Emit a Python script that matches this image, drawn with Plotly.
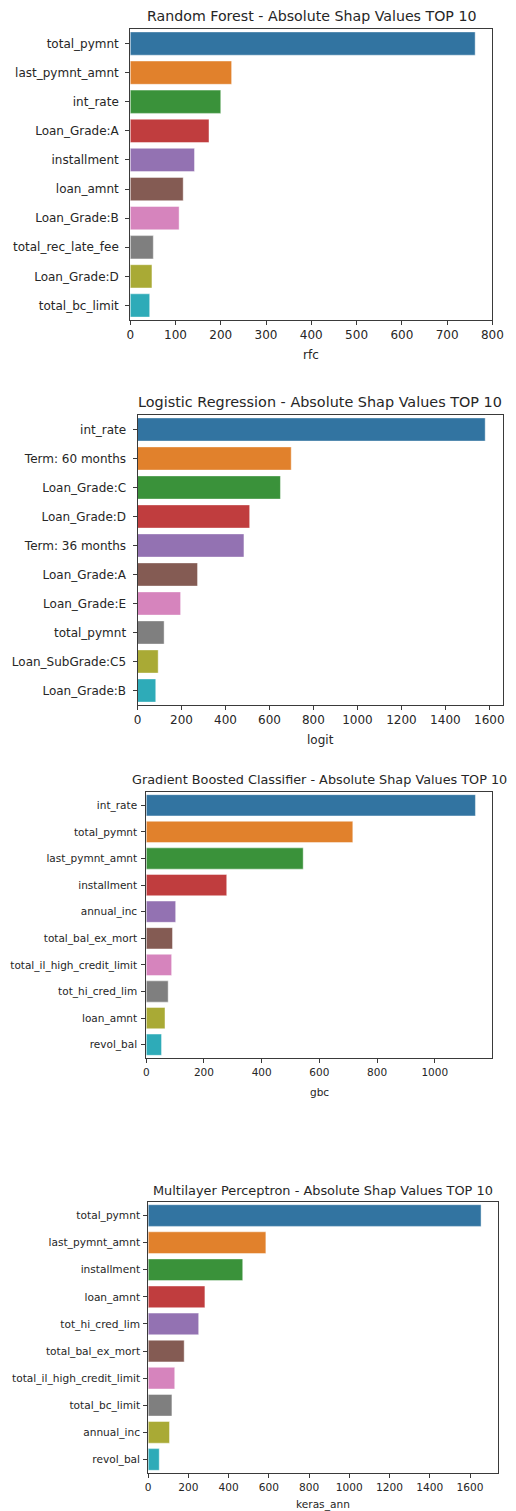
import plotly.graph_objects as go

W, H = 516, 1511

# Seaborn default (deep) palette, one colour per rank
palette = ['#3274a1', '#e1812c', '#3a923a', '#c03d3e', '#9372b2',
           '#845b53', '#d684bd', '#7f7f7f', '#a9aa35', '#2eabb8']

rfc_features = ['total_pymnt', 'last_pymnt_amnt', 'int_rate', 'Loan_Grade:A', 'installment',
                'loan_amnt', 'Loan_Grade:B', 'total_rec_late_fee', 'Loan_Grade:D', 'total_bc_limit']
rfc_values = [762, 224, 200, 174, 142, 117, 108, 51, 48, 43]

logit_features = ['int_rate', 'Term: 60 months', 'Loan_Grade:C', 'Loan_Grade:D', 'Term: 36 months',
                  'Loan_Grade:A', 'Loan_Grade:E', 'total_pymnt', 'Loan_SubGrade:C5', 'Loan_Grade:B']
logit_values = [1581, 699, 650, 510, 484, 273, 196, 121, 94, 83]

gbc_features = ['int_rate', 'total_pymnt', 'last_pymnt_amnt', 'installment', 'annual_inc',
                'total_bal_ex_mort', 'total_il_high_credit_limit', 'tot_hi_cred_lim', 'loan_amnt', 'revol_bal']
gbc_values = [1141, 716, 544, 279, 102, 91, 88, 76, 65, 53]

ann_features = ['total_pymnt', 'last_pymnt_amnt', 'installment', 'loan_amnt', 'tot_hi_cred_lim',
                'total_bal_ex_mort', 'total_il_high_credit_limit', 'total_bc_limit', 'annual_inc', 'revol_bal']
ann_values = [1655, 585, 470, 282, 251, 179, 132, 118, 106, 55]

panels = [
    dict(title='Random Forest - Absolute Shap Values TOP 10', xlabel='rfc',
         feats=rfc_features, vals=rfc_values, xmax=800, dtick=100,
         box=(130, 503, 29, 320), title_y=16, xlabel_y=355, fs=14.2, tfs=12, ystand=4),
    dict(title='Logistic Regression - Absolute Shap Values TOP 10', xlabel='logit',
         feats=logit_features, vals=logit_values, xmax=None, dtick=200,
         box=(137.5, 513.5, 415, 705), title_y=402, xlabel_y=740, fs=14.4, tfs=12, ystand=4),
    dict(title='Gradient Boosted Classifier - Absolute Shap Values TOP 10', xlabel='gbc',
         feats=gbc_features, vals=gbc_values, xmax=None, dtick=200,
         box=(146.5, 502.5, 792, 1058), title_y=779, xlabel_y=1092, fs=12.8, tfs=10.5, ystand=2),
    dict(title='Multilayer Perceptron - Absolute Shap Values TOP 10', xlabel='keras_ann',
         feats=ann_features, vals=ann_values, xmax=None, dtick=200,
         box=(148.5, 508.5, 1202, 1473), title_y=1190, xlabel_y=1504, fs=12.9, tfs=10.6, ystand=1),
]

FONT = 'DejaVu Sans'
TXT = '#262626'

fig = go.Figure()
annotations = []
for i, p in enumerate(panels, start=1):
    xa = 'x' if i == 1 else f'x{i}'
    ya = 'y' if i == 1 else f'y{i}'
    left, right, top, bottom = p['box']
    fig.add_trace(go.Bar(
        x=p['vals'], y=p['feats'], orientation='h', width=0.8,
        marker=dict(color=palette, line=dict(color='rgba(255,255,255,0.55)', width=0.8)),
        xaxis=xa, yaxis=ya, showlegend=False, hoverinfo='x+y'))
    xmax = p['xmax'] if p['xmax'] is not None else max(p['vals']) * 1.05
    axis_common = dict(showline=True, linecolor='#3a3a3a', linewidth=1, mirror=True,
                       ticks='outside', ticklen=4, tickcolor='#3a3a3a', tickwidth=1,
                       showgrid=False, zeroline=False,
                       tickfont=dict(family=FONT, size=p['tfs'], color=TXT))
    fig.update_layout(**{
        ('xaxis' if i == 1 else f'xaxis{i}'): dict(
            domain=[left / W, right / W], range=[0, xmax], dtick=p['dtick'], tick0=0,
            anchor=ya, **axis_common),
        ('yaxis' if i == 1 else f'yaxis{i}'): dict(
            domain=[1 - bottom / H, 1 - top / H], range=[9.5, -0.5],
            categoryorder='array', categoryarray=p['feats'],
            ticklabelstandoff=p['ystand'], anchor=xa, **axis_common),
    })
    annotations.append(dict(text=p['title'], x=(left + right) / 2 / W, y=1 - p['title_y'] / H,
                            xref='paper', yref='paper', xanchor='center', yanchor='middle',
                            showarrow=False, font=dict(family=FONT, size=p['fs'], color=TXT)))
    annotations.append(dict(text=p['xlabel'], x=(left + right) / 2 / W, y=1 - p['xlabel_y'] / H,
                            xref='paper', yref='paper', xanchor='center', yanchor='middle',
                            showarrow=False, font=dict(family=FONT, size=p['tfs'], color=TXT)))

fig.update_layout(width=W, height=H, margin=dict(l=0, r=0, t=0, b=0),
                  paper_bgcolor='white', plot_bgcolor='white',
                  annotations=annotations, bargap=0.2)
fig.write_html('out.html')
